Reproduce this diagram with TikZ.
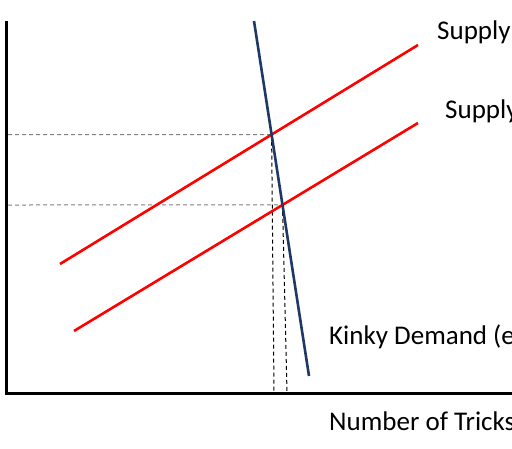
\documentclass[tikz,border=0pt]{standalone}
\usepackage{fontspec}
\setmainfont{Carlito}
\usetikzlibrary{intersections}
\definecolor{navy}{HTML}{1F3864}
\begin{document}
\begin{tikzpicture}[x=1pt,y=-1pt,
  axisline/.style={line width=3pt, black},
  supplyline/.style={line width=2.6pt, red},
  demandline/.style={line width=2.6pt, navy},
  guide/.style={line width=1pt, gray, dash pattern=on 4pt off 3pt},
  vguide/.style={line width=1pt, black, dash pattern=on 4pt off 3pt},
  lbl/.style={anchor=base west, inner sep=0pt, font=\fontsize{27}{32}\selectfont}]
\useasboundingbox (0,0) rectangle (512,448);
\clip (0,0) rectangle (512,448);
\fill[white] (0,0) rectangle (512,448);
% axes
\coordinate (ytop) at (6,21);
\coordinate (origin) at (6,393);
\coordinate (xend) at (515,393);
% curves
\coordinate (s1a) at (60,264);
\coordinate (s1b) at (418,45);
\coordinate (s2a) at (74,331);
\coordinate (s2b) at (418,123);
\coordinate (da) at (254,21);
\coordinate (db) at (309,376);
\path[name path=S1] (s1a) -- (s1b);
\path[name path=S2] (s2a) -- (s2b);
\path[name path=D] (da) -- (db);
\path[name intersections={of=S1 and D, by=e1}];
\path[name intersections={of=S2 and D, by=e2}];
\coordinate (e1l) at (8,0 |- e1);
\coordinate (e2l) at (8,0 |- e2);
\path (e1l) ++(0,0);
\coordinate (h1) at (8,134.6);
\coordinate (h2) at (8,205);
\coordinate (b1) at (274,392);
\coordinate (b2) at (287,392);
% guides
\draw[guide] (h1) -- (e1);
\draw[guide] (h2) -- (e2);
\draw[vguide] (e1) -- (b1);
\draw[vguide] (e2) -- (b2);
% lines
\draw[supplyline] (s1a) -- (s1b);
\draw[supplyline] (s2a) -- (s2b);
\draw[demandline] (da) -- (db);
\draw[axisline] (ytop) -- (origin) -- (xend);
% labels
\node[lbl] (l1) at (437,39) {Supply};
\node[lbl] (l2) at (445,118) {Supply};
\node[lbl] (l3) at (329,344) {Kinky Demand (e};
\node[lbl] (l4) at (329,430) {Number of Tricks};
\end{tikzpicture}
\end{document}
